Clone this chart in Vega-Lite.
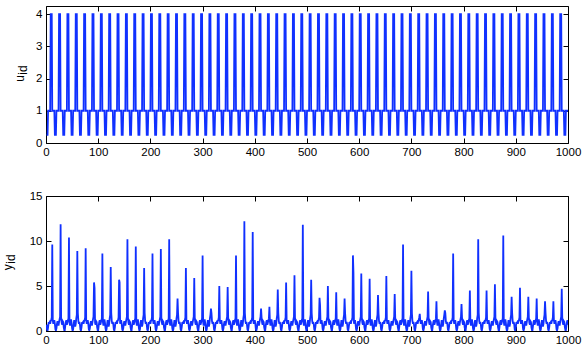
{"$schema":"https://vega.github.io/schema/vega-lite/v6.json","padding":{"left":0,"top":5,"right":5,"bottom":2},"background":"white",
"config":{"view":{"stroke":"black","strokeWidth":1},"axis":{"grid":false,"domain":false,"tickColor":"black","tickSize":-5,"tickWidth":1,"labelColor":"black","labelFont":"Liberation Sans","labelFontSize":11.5,"titleFont":"Liberation Sans","titleFontSize":12,"titleFontWeight":"normal","titleColor":"black","labelFlush":false,"labelOverlap":false,"labelBound":false},"line":{"color":"#1030ff","strokeWidth":1.8}},
"data":{"values":[
{"t":1,"u":0.25,"y":0.7},{"t":2,"u":0.25,"y":0.15},{"t":3,"u":0.25,"y":0.05},{"t":4,"u":1,"y":0.4},{"t":5,"u":1,"y":0.9},{"t":6,"u":1,"y":0.9},{"t":7,"u":1,"y":1},{"t":8,"u":1,"y":0.8},{"t":9,"u":4,"y":1.1},{"t":10,"u":4,"y":1.2},{"t":11,"u":4,"y":1.5},
{"t":12,"u":1,"y":9.6},{"t":13,"u":1,"y":1.2},{"t":14,"u":1,"y":0.8},{"t":15,"u":1,"y":1},{"t":16,"u":1,"y":1.2},{"t":17,"u":0.25,"y":0.8},{"t":18,"u":0.25,"y":0.2},{"t":19,"u":0.25,"y":0.05},{"t":20,"u":1,"y":0.3},{"t":21,"u":1,"y":0.8},{"t":22,"u":1,"y":1.1},{"t":23,"u":1,"y":0.8},{"t":24,"u":1,"y":0.6},{"t":25,"u":4,"y":1},{"t":26,"u":4,"y":1.3},{"t":27,"u":4,"y":1.6},
{"t":28,"u":1,"y":11.85},{"t":29,"u":1,"y":1.5},{"t":30,"u":1,"y":0.9},{"t":31,"u":1,"y":0.7},{"t":32,"u":1,"y":1.1},{"t":33,"u":0.25,"y":1},{"t":34,"u":0.25,"y":0.4},{"t":35,"u":0.25,"y":0.1},{"t":36,"u":1,"y":0.1},{"t":37,"u":1,"y":0.6},{"t":38,"u":1,"y":1},{"t":39,"u":1,"y":1.2},{"t":40,"u":1,"y":0.7},{"t":41,"u":4,"y":0.9},{"t":42,"u":4,"y":1.2},{"t":43,"u":4,"y":1.4},
{"t":44,"u":1,"y":10.4},{"t":45,"u":1,"y":1},{"t":46,"u":1,"y":0.6},{"t":47,"u":1,"y":0.9},{"t":48,"u":1,"y":1.3},{"t":49,"u":0.25,"y":0.9},{"t":50,"u":0.25,"y":0.3},{"t":51,"u":0.25,"y":0},{"t":52,"u":1,"y":0.2},{"t":53,"u":1,"y":0.7},{"t":54,"u":1,"y":1.2},{"t":55,"u":1,"y":0.9},{"t":56,"u":1,"y":0.5},{"t":57,"u":4,"y":0.8},{"t":58,"u":4,"y":1.4},{"t":59,"u":4,"y":1.8},
{"t":60,"u":1,"y":8.9},{"t":61,"u":1,"y":2},{"t":62,"u":1,"y":1.1},{"t":63,"u":1,"y":0.8},{"t":64,"u":1,"y":1},{"t":65,"u":0.25,"y":0.7},{"t":66,"u":0.25,"y":0.15},{"t":67,"u":0.25,"y":0.05},{"t":68,"u":1,"y":0.4},{"t":69,"u":1,"y":0.9},{"t":70,"u":1,"y":0.9},{"t":71,"u":1,"y":1},{"t":72,"u":1,"y":0.8},{"t":73,"u":4,"y":1.1},{"t":74,"u":4,"y":1.2},{"t":75,"u":4,"y":1.5},
{"t":76,"u":1,"y":9.2},{"t":77,"u":1,"y":1.2},{"t":78,"u":1,"y":0.8},{"t":79,"u":1,"y":1},{"t":80,"u":1,"y":1.2},{"t":81,"u":0.25,"y":0.8},{"t":82,"u":0.25,"y":0.2},{"t":83,"u":0.25,"y":0.05},{"t":84,"u":1,"y":0.3},{"t":85,"u":1,"y":0.8},{"t":86,"u":1,"y":1.1},{"t":87,"u":1,"y":0.8},{"t":88,"u":1,"y":0.6},{"t":89,"u":4,"y":1},{"t":90,"u":4,"y":1.3},{"t":91,"u":4,"y":1.6},
{"t":92,"u":1,"y":5.4},{"t":93,"u":1,"y":4.8},{"t":94,"u":1,"y":0.9},{"t":95,"u":1,"y":0.7},{"t":96,"u":1,"y":1.1},{"t":97,"u":0.25,"y":1},{"t":98,"u":0.25,"y":0.4},{"t":99,"u":0.25,"y":0.1},{"t":100,"u":1,"y":0.1},{"t":101,"u":1,"y":0.6},{"t":102,"u":1,"y":1},{"t":103,"u":1,"y":1.2},{"t":104,"u":1,"y":0.7},{"t":105,"u":4,"y":0.9},{"t":106,"u":4,"y":1.2},{"t":107,"u":4,"y":1.4},
{"t":108,"u":1,"y":8.6},{"t":109,"u":1,"y":1},{"t":110,"u":1,"y":0.6},{"t":111,"u":1,"y":0.9},{"t":112,"u":1,"y":1.3},{"t":113,"u":0.25,"y":0.9},{"t":114,"u":0.25,"y":0.3},{"t":115,"u":0.25,"y":0},{"t":116,"u":1,"y":0.2},{"t":117,"u":1,"y":0.7},{"t":118,"u":1,"y":1.2},{"t":119,"u":1,"y":0.9},{"t":120,"u":1,"y":0.5},{"t":121,"u":4,"y":0.8},{"t":122,"u":4,"y":1.4},{"t":123,"u":4,"y":1.8},
{"t":124,"u":1,"y":7.1},{"t":125,"u":1,"y":2},{"t":126,"u":1,"y":1.1},{"t":127,"u":1,"y":0.8},{"t":128,"u":1,"y":1},{"t":129,"u":0.25,"y":0.7},{"t":130,"u":0.25,"y":0.15},{"t":131,"u":0.25,"y":0.05},{"t":132,"u":1,"y":0.4},{"t":133,"u":1,"y":0.9},{"t":134,"u":1,"y":0.9},{"t":135,"u":1,"y":1},{"t":136,"u":1,"y":0.8},{"t":137,"u":4,"y":1.1},{"t":138,"u":4,"y":1.2},{"t":139,"u":4,"y":1.5},
{"t":140,"u":1,"y":5.7},{"t":141,"u":1,"y":5.4},{"t":142,"u":1,"y":0.8},{"t":143,"u":1,"y":1},{"t":144,"u":1,"y":1.2},{"t":145,"u":0.25,"y":0.8},{"t":146,"u":0.25,"y":0.2},{"t":147,"u":0.25,"y":0.05},{"t":148,"u":1,"y":0.3},{"t":149,"u":1,"y":0.8},{"t":150,"u":1,"y":1.1},{"t":151,"u":1,"y":0.8},{"t":152,"u":1,"y":0.6},{"t":153,"u":4,"y":1},{"t":154,"u":4,"y":1.3},{"t":155,"u":4,"y":1.6},
{"t":156,"u":1,"y":10.2},{"t":157,"u":1,"y":1.5},{"t":158,"u":1,"y":0.9},{"t":159,"u":1,"y":0.7},{"t":160,"u":1,"y":1.1},{"t":161,"u":0.25,"y":1},{"t":162,"u":0.25,"y":0.4},{"t":163,"u":0.25,"y":0.1},{"t":164,"u":1,"y":0.1},{"t":165,"u":1,"y":0.6},{"t":166,"u":1,"y":1},{"t":167,"u":1,"y":1.2},{"t":168,"u":1,"y":0.7},{"t":169,"u":4,"y":0.9},{"t":170,"u":4,"y":1.2},{"t":171,"u":4,"y":1.4},
{"t":172,"u":1,"y":9.4},{"t":173,"u":1,"y":1},{"t":174,"u":1,"y":0.6},{"t":175,"u":1,"y":0.9},{"t":176,"u":1,"y":1.3},{"t":177,"u":0.25,"y":0.9},{"t":178,"u":0.25,"y":0.3},{"t":179,"u":0.25,"y":0},{"t":180,"u":1,"y":0.2},{"t":181,"u":1,"y":0.7},{"t":182,"u":1,"y":1.2},{"t":183,"u":1,"y":0.9},{"t":184,"u":1,"y":0.5},{"t":185,"u":4,"y":0.8},{"t":186,"u":4,"y":1.4},{"t":187,"u":4,"y":1.8},
{"t":188,"u":1,"y":7},{"t":189,"u":1,"y":2},{"t":190,"u":1,"y":1.1},{"t":191,"u":1,"y":0.8},{"t":192,"u":1,"y":1},{"t":193,"u":0.25,"y":0.7},{"t":194,"u":0.25,"y":0.15},{"t":195,"u":0.25,"y":0.05},{"t":196,"u":1,"y":0.4},{"t":197,"u":1,"y":0.9},{"t":198,"u":1,"y":0.9},{"t":199,"u":1,"y":1},{"t":200,"u":1,"y":0.8},{"t":201,"u":4,"y":1.1},{"t":202,"u":4,"y":1.2},{"t":203,"u":4,"y":1.5},
{"t":204,"u":1,"y":8.6},{"t":205,"u":1,"y":1.2},{"t":206,"u":1,"y":0.8},{"t":207,"u":1,"y":1},{"t":208,"u":1,"y":1.2},{"t":209,"u":0.25,"y":0.8},{"t":210,"u":0.25,"y":0.2},{"t":211,"u":0.25,"y":0.05},{"t":212,"u":1,"y":0.3},{"t":213,"u":1,"y":0.8},{"t":214,"u":1,"y":1.1},{"t":215,"u":1,"y":0.8},{"t":216,"u":1,"y":0.6},{"t":217,"u":4,"y":1},{"t":218,"u":4,"y":1.3},{"t":219,"u":4,"y":1.6},
{"t":220,"u":1,"y":9.1},{"t":221,"u":1,"y":1.5},{"t":222,"u":1,"y":0.9},{"t":223,"u":1,"y":0.7},{"t":224,"u":1,"y":1.1},{"t":225,"u":0.25,"y":1},{"t":226,"u":0.25,"y":0.4},{"t":227,"u":0.25,"y":0.1},{"t":228,"u":1,"y":0.1},{"t":229,"u":1,"y":0.6},{"t":230,"u":1,"y":1},{"t":231,"u":1,"y":1.2},{"t":232,"u":1,"y":0.7},{"t":233,"u":4,"y":0.9},{"t":234,"u":4,"y":1.2},{"t":235,"u":4,"y":1.4},
{"t":236,"u":1,"y":10.2},{"t":237,"u":1,"y":1},{"t":238,"u":1,"y":0.6},{"t":239,"u":1,"y":0.9},{"t":240,"u":1,"y":1.3},{"t":241,"u":0.25,"y":0.9},{"t":242,"u":0.25,"y":0.3},{"t":243,"u":0.25,"y":0},{"t":244,"u":1,"y":0.2},{"t":245,"u":1,"y":0.7},{"t":246,"u":1,"y":1.2},{"t":247,"u":1,"y":0.9},{"t":248,"u":1,"y":0.5},{"t":249,"u":4,"y":0.8},{"t":250,"u":4,"y":1.4},{"t":251,"u":4,"y":1.8},
{"t":252,"u":1,"y":3.6},{"t":253,"u":1,"y":2},{"t":254,"u":1,"y":1.1},{"t":255,"u":1,"y":0.8},{"t":256,"u":1,"y":1},{"t":257,"u":0.25,"y":0.7},{"t":258,"u":0.25,"y":0.15},{"t":259,"u":0.25,"y":0.05},{"t":260,"u":1,"y":0.4},{"t":261,"u":1,"y":0.9},{"t":262,"u":1,"y":0.9},{"t":263,"u":1,"y":1},{"t":264,"u":1,"y":0.8},{"t":265,"u":4,"y":1.1},{"t":266,"u":4,"y":1.2},{"t":267,"u":4,"y":1.5},
{"t":268,"u":1,"y":7},{"t":269,"u":1,"y":1.2},{"t":270,"u":1,"y":0.8},{"t":271,"u":1,"y":1},{"t":272,"u":1,"y":1.2},{"t":273,"u":0.25,"y":0.8},{"t":274,"u":0.25,"y":0.2},{"t":275,"u":0.25,"y":0.05},{"t":276,"u":1,"y":0.3},{"t":277,"u":1,"y":0.8},{"t":278,"u":1,"y":1.1},{"t":279,"u":1,"y":0.8},{"t":280,"u":1,"y":0.6},{"t":281,"u":4,"y":1},{"t":282,"u":4,"y":1.3},{"t":283,"u":4,"y":1.6},
{"t":284,"u":1,"y":5.9},{"t":285,"u":1,"y":1.5},{"t":286,"u":1,"y":0.9},{"t":287,"u":1,"y":0.7},{"t":288,"u":1,"y":1.1},{"t":289,"u":0.25,"y":1},{"t":290,"u":0.25,"y":0.4},{"t":291,"u":0.25,"y":0.1},{"t":292,"u":1,"y":0.1},{"t":293,"u":1,"y":0.6},{"t":294,"u":1,"y":1},{"t":295,"u":1,"y":1.2},{"t":296,"u":1,"y":0.7},{"t":297,"u":4,"y":0.9},{"t":298,"u":4,"y":1.2},{"t":299,"u":4,"y":1.4},
{"t":300,"u":1,"y":8.4},{"t":301,"u":1,"y":1},{"t":302,"u":1,"y":0.6},{"t":303,"u":1,"y":0.9},{"t":304,"u":1,"y":1.3},{"t":305,"u":0.25,"y":0.9},{"t":306,"u":0.25,"y":0.3},{"t":307,"u":0.25,"y":0},{"t":308,"u":1,"y":0.2},{"t":309,"u":1,"y":0.7},{"t":310,"u":1,"y":1.2},{"t":311,"u":1,"y":0.9},{"t":312,"u":1,"y":0.5},{"t":313,"u":4,"y":0.8},{"t":314,"u":4,"y":1.4},{"t":315,"u":4,"y":1.8},
{"t":316,"u":1,"y":2.5},{"t":317,"u":1,"y":2},{"t":318,"u":1,"y":1.1},{"t":319,"u":1,"y":0.8},{"t":320,"u":1,"y":1},{"t":321,"u":0.25,"y":0.7},{"t":322,"u":0.25,"y":0.15},{"t":323,"u":0.25,"y":0.05},{"t":324,"u":1,"y":0.4},{"t":325,"u":1,"y":0.9},{"t":326,"u":1,"y":0.9},{"t":327,"u":1,"y":1},{"t":328,"u":1,"y":0.8},{"t":329,"u":4,"y":1.1},{"t":330,"u":4,"y":1.2},{"t":331,"u":4,"y":1.5},
{"t":332,"u":1,"y":5},{"t":333,"u":1,"y":1.2},{"t":334,"u":1,"y":0.8},{"t":335,"u":1,"y":1},{"t":336,"u":1,"y":1.2},{"t":337,"u":0.25,"y":0.8},{"t":338,"u":0.25,"y":0.2},{"t":339,"u":0.25,"y":0.05},{"t":340,"u":1,"y":0.3},{"t":341,"u":1,"y":0.8},{"t":342,"u":1,"y":1.1},{"t":343,"u":1,"y":0.8},{"t":344,"u":1,"y":0.6},{"t":345,"u":4,"y":1},{"t":346,"u":4,"y":1.3},{"t":347,"u":4,"y":1.6},
{"t":348,"u":1,"y":4.9},{"t":349,"u":1,"y":1.5},{"t":350,"u":1,"y":0.9},{"t":351,"u":1,"y":0.7},{"t":352,"u":1,"y":1.1},{"t":353,"u":0.25,"y":1},{"t":354,"u":0.25,"y":0.4},{"t":355,"u":0.25,"y":0.1},{"t":356,"u":1,"y":0.1},{"t":357,"u":1,"y":0.6},{"t":358,"u":1,"y":1},{"t":359,"u":1,"y":1.2},{"t":360,"u":1,"y":0.7},{"t":361,"u":4,"y":0.9},{"t":362,"u":4,"y":1.2},{"t":363,"u":4,"y":1.4},
{"t":364,"u":1,"y":8.4},{"t":365,"u":1,"y":1},{"t":366,"u":1,"y":0.6},{"t":367,"u":1,"y":0.9},{"t":368,"u":1,"y":1.3},{"t":369,"u":0.25,"y":0.9},{"t":370,"u":0.25,"y":0.3},{"t":371,"u":0.25,"y":0},{"t":372,"u":1,"y":0.2},{"t":373,"u":1,"y":0.7},{"t":374,"u":1,"y":1.2},{"t":375,"u":1,"y":0.9},{"t":376,"u":1,"y":0.5},{"t":377,"u":4,"y":0.8},{"t":378,"u":4,"y":1.4},{"t":379,"u":4,"y":1.8},
{"t":380,"u":1,"y":12.2},{"t":381,"u":1,"y":2},{"t":382,"u":1,"y":1.1},{"t":383,"u":1,"y":0.8},{"t":384,"u":1,"y":1},{"t":385,"u":0.25,"y":0.7},{"t":386,"u":0.25,"y":0.15},{"t":387,"u":0.25,"y":0.05},{"t":388,"u":1,"y":0.4},{"t":389,"u":1,"y":0.9},{"t":390,"u":1,"y":0.9},{"t":391,"u":1,"y":1},{"t":392,"u":1,"y":0.8},{"t":393,"u":4,"y":1.1},{"t":394,"u":4,"y":1.2},{"t":395,"u":4,"y":1.5},
{"t":396,"u":1,"y":11},{"t":397,"u":1,"y":1.2},{"t":398,"u":1,"y":0.8},{"t":399,"u":1,"y":1},{"t":400,"u":1,"y":1.2},{"t":401,"u":0.25,"y":0.8},{"t":402,"u":0.25,"y":0.2},{"t":403,"u":0.25,"y":0.05},{"t":404,"u":1,"y":0.3},{"t":405,"u":1,"y":0.8},{"t":406,"u":1,"y":1.1},{"t":407,"u":1,"y":0.8},{"t":408,"u":1,"y":0.6},{"t":409,"u":4,"y":1},{"t":410,"u":4,"y":1.3},{"t":411,"u":4,"y":1.6},
{"t":412,"u":1,"y":2.5},{"t":413,"u":1,"y":1.5},{"t":414,"u":1,"y":0.9},{"t":415,"u":1,"y":0.7},{"t":416,"u":1,"y":1.1},{"t":417,"u":0.25,"y":1},{"t":418,"u":0.25,"y":0.4},{"t":419,"u":0.25,"y":0.1},{"t":420,"u":1,"y":0.1},{"t":421,"u":1,"y":0.6},{"t":422,"u":1,"y":1},{"t":423,"u":1,"y":1.2},{"t":424,"u":1,"y":0.7},{"t":425,"u":4,"y":0.9},{"t":426,"u":4,"y":1.2},{"t":427,"u":4,"y":1.4},
{"t":428,"u":1,"y":2.7},{"t":429,"u":1,"y":1},{"t":430,"u":1,"y":0.6},{"t":431,"u":1,"y":0.9},{"t":432,"u":1,"y":1.3},{"t":433,"u":0.25,"y":0.9},{"t":434,"u":0.25,"y":0.3},{"t":435,"u":0.25,"y":0},{"t":436,"u":1,"y":0.2},{"t":437,"u":1,"y":0.7},{"t":438,"u":1,"y":1.2},{"t":439,"u":1,"y":0.9},{"t":440,"u":1,"y":0.5},{"t":441,"u":4,"y":0.8},{"t":442,"u":4,"y":1.4},{"t":443,"u":4,"y":1.8},
{"t":444,"u":1,"y":4.6},{"t":445,"u":1,"y":2},{"t":446,"u":1,"y":1.1},{"t":447,"u":1,"y":0.8},{"t":448,"u":1,"y":1},{"t":449,"u":0.25,"y":0.7},{"t":450,"u":0.25,"y":0.15},{"t":451,"u":0.25,"y":0.05},{"t":452,"u":1,"y":0.4},{"t":453,"u":1,"y":0.9},{"t":454,"u":1,"y":0.9},{"t":455,"u":1,"y":1},{"t":456,"u":1,"y":0.8},{"t":457,"u":4,"y":1.1},{"t":458,"u":4,"y":1.2},{"t":459,"u":4,"y":1.5},
{"t":460,"u":1,"y":5.4},{"t":461,"u":1,"y":1.2},{"t":462,"u":1,"y":0.8},{"t":463,"u":1,"y":1},{"t":464,"u":1,"y":1.2},{"t":465,"u":0.25,"y":0.8},{"t":466,"u":0.25,"y":0.2},{"t":467,"u":0.25,"y":0.05},{"t":468,"u":1,"y":0.3},{"t":469,"u":1,"y":0.8},{"t":470,"u":1,"y":1.1},{"t":471,"u":1,"y":0.8},{"t":472,"u":1,"y":0.6},{"t":473,"u":4,"y":1},{"t":474,"u":4,"y":1.3},{"t":475,"u":4,"y":1.6},
{"t":476,"u":1,"y":6.2},{"t":477,"u":1,"y":1.5},{"t":478,"u":1,"y":0.9},{"t":479,"u":1,"y":0.7},{"t":480,"u":1,"y":1.1},{"t":481,"u":0.25,"y":1},{"t":482,"u":0.25,"y":0.4},{"t":483,"u":0.25,"y":0.1},{"t":484,"u":1,"y":0.1},{"t":485,"u":1,"y":0.6},{"t":486,"u":1,"y":1},{"t":487,"u":1,"y":1.2},{"t":488,"u":1,"y":0.7},{"t":489,"u":4,"y":0.9},{"t":490,"u":4,"y":1.2},{"t":491,"u":4,"y":1.4},
{"t":492,"u":1,"y":11.8},{"t":493,"u":1,"y":1},{"t":494,"u":1,"y":0.6},{"t":495,"u":1,"y":0.9},{"t":496,"u":1,"y":1.3},{"t":497,"u":0.25,"y":0.9},{"t":498,"u":0.25,"y":0.3},{"t":499,"u":0.25,"y":0},{"t":500,"u":1,"y":0.2},{"t":501,"u":1,"y":0.7},{"t":502,"u":1,"y":1.2},{"t":503,"u":1,"y":0.9},{"t":504,"u":1,"y":0.5},{"t":505,"u":4,"y":0.8},{"t":506,"u":4,"y":1.4},{"t":507,"u":4,"y":1.8},
{"t":508,"u":1,"y":5.7},{"t":509,"u":1,"y":2},{"t":510,"u":1,"y":1.1},{"t":511,"u":1,"y":0.8},{"t":512,"u":1,"y":1},{"t":513,"u":0.25,"y":0.7},{"t":514,"u":0.25,"y":0.15},{"t":515,"u":0.25,"y":0.05},{"t":516,"u":1,"y":0.4},{"t":517,"u":1,"y":0.9},{"t":518,"u":1,"y":0.9},{"t":519,"u":1,"y":1},{"t":520,"u":1,"y":0.8},{"t":521,"u":4,"y":1.1},{"t":522,"u":4,"y":1.2},{"t":523,"u":4,"y":1.5},
{"t":524,"u":1,"y":3.7},{"t":525,"u":1,"y":2.9},{"t":526,"u":1,"y":0.8},{"t":527,"u":1,"y":1},{"t":528,"u":1,"y":1.2},{"t":529,"u":0.25,"y":0.8},{"t":530,"u":0.25,"y":0.2},{"t":531,"u":0.25,"y":0.05},{"t":532,"u":1,"y":0.3},{"t":533,"u":1,"y":0.8},{"t":534,"u":1,"y":1.1},{"t":535,"u":1,"y":0.8},{"t":536,"u":1,"y":0.6},{"t":537,"u":4,"y":1},{"t":538,"u":4,"y":1.3},{"t":539,"u":4,"y":1.6},
{"t":540,"u":1,"y":5},{"t":541,"u":1,"y":1.5},{"t":542,"u":1,"y":0.9},{"t":543,"u":1,"y":0.7},{"t":544,"u":1,"y":1.1},{"t":545,"u":0.25,"y":1},{"t":546,"u":0.25,"y":0.4},{"t":547,"u":0.25,"y":0.1},{"t":548,"u":1,"y":0.1},{"t":549,"u":1,"y":0.6},{"t":550,"u":1,"y":1},{"t":551,"u":1,"y":1.2},{"t":552,"u":1,"y":0.7},{"t":553,"u":4,"y":0.9},{"t":554,"u":4,"y":1.2},{"t":555,"u":4,"y":1.4},
{"t":556,"u":1,"y":4.3},{"t":557,"u":1,"y":1},{"t":558,"u":1,"y":0.6},{"t":559,"u":1,"y":0.9},{"t":560,"u":1,"y":1.3},{"t":561,"u":0.25,"y":0.9},{"t":562,"u":0.25,"y":0.3},{"t":563,"u":0.25,"y":0},{"t":564,"u":1,"y":0.2},{"t":565,"u":1,"y":0.7},{"t":566,"u":1,"y":1.2},{"t":567,"u":1,"y":0.9},{"t":568,"u":1,"y":0.5},{"t":569,"u":4,"y":0.8},{"t":570,"u":4,"y":1.4},{"t":571,"u":4,"y":1.8},
{"t":572,"u":1,"y":3.6},{"t":573,"u":1,"y":2},{"t":574,"u":1,"y":1.1},{"t":575,"u":1,"y":0.8},{"t":576,"u":1,"y":1},{"t":577,"u":0.25,"y":0.7},{"t":578,"u":0.25,"y":0.15},{"t":579,"u":0.25,"y":0.05},{"t":580,"u":1,"y":0.4},{"t":581,"u":1,"y":0.9},{"t":582,"u":1,"y":0.9},{"t":583,"u":1,"y":1},{"t":584,"u":1,"y":0.8},{"t":585,"u":4,"y":1.1},{"t":586,"u":4,"y":1.2},{"t":587,"u":4,"y":1.5},
{"t":588,"u":1,"y":8.4},{"t":589,"u":1,"y":6.5},{"t":590,"u":1,"y":0.8},{"t":591,"u":1,"y":1},{"t":592,"u":1,"y":1.2},{"t":593,"u":0.25,"y":0.8},{"t":594,"u":0.25,"y":0.2},{"t":595,"u":0.25,"y":0.05},{"t":596,"u":1,"y":0.3},{"t":597,"u":1,"y":0.8},{"t":598,"u":1,"y":1.1},{"t":599,"u":1,"y":0.8},{"t":600,"u":1,"y":0.6},{"t":601,"u":4,"y":1},{"t":602,"u":4,"y":1.3},{"t":603,"u":4,"y":1.6},
{"t":604,"u":1,"y":6.4},{"t":605,"u":1,"y":1.5},{"t":606,"u":1,"y":0.9},{"t":607,"u":1,"y":0.7},{"t":608,"u":1,"y":1.1},{"t":609,"u":0.25,"y":1},{"t":610,"u":0.25,"y":0.4},{"t":611,"u":0.25,"y":0.1},{"t":612,"u":1,"y":0.1},{"t":613,"u":1,"y":0.6},{"t":614,"u":1,"y":1},{"t":615,"u":1,"y":1.2},{"t":616,"u":1,"y":0.7},{"t":617,"u":4,"y":0.9},{"t":618,"u":4,"y":1.2},{"t":619,"u":4,"y":1.4},
{"t":620,"u":1,"y":5.8},{"t":621,"u":1,"y":1},{"t":622,"u":1,"y":0.6},{"t":623,"u":1,"y":0.9},{"t":624,"u":1,"y":1.3},{"t":625,"u":0.25,"y":0.9},{"t":626,"u":0.25,"y":0.3},{"t":627,"u":0.25,"y":0},{"t":628,"u":1,"y":0.2},{"t":629,"u":1,"y":0.7},{"t":630,"u":1,"y":1.2},{"t":631,"u":1,"y":0.9},{"t":632,"u":1,"y":0.5},{"t":633,"u":4,"y":0.8},{"t":634,"u":4,"y":1.4},{"t":635,"u":4,"y":1.8},
{"t":636,"u":1,"y":4},{"t":637,"u":1,"y":2},{"t":638,"u":1,"y":1.1},{"t":639,"u":1,"y":0.8},{"t":640,"u":1,"y":1},{"t":641,"u":0.25,"y":0.7},{"t":642,"u":0.25,"y":0.15},{"t":643,"u":0.25,"y":0.05},{"t":644,"u":1,"y":0.4},{"t":645,"u":1,"y":0.9},{"t":646,"u":1,"y":0.9},{"t":647,"u":1,"y":1},{"t":648,"u":1,"y":0.8},{"t":649,"u":4,"y":1.1},{"t":650,"u":4,"y":1.2},{"t":651,"u":4,"y":1.5},
{"t":652,"u":1,"y":6.1},{"t":653,"u":1,"y":1.2},{"t":654,"u":1,"y":0.8},{"t":655,"u":1,"y":1},{"t":656,"u":1,"y":1.2},{"t":657,"u":0.25,"y":0.8},{"t":658,"u":0.25,"y":0.2},{"t":659,"u":0.25,"y":0.05},{"t":660,"u":1,"y":0.3},{"t":661,"u":1,"y":0.8},{"t":662,"u":1,"y":1.1},{"t":663,"u":1,"y":0.8},{"t":664,"u":1,"y":0.6},{"t":665,"u":4,"y":1},{"t":666,"u":4,"y":1.3},{"t":667,"u":4,"y":1.6},
{"t":668,"u":1,"y":4.1},{"t":669,"u":1,"y":1.5},{"t":670,"u":1,"y":0.9},{"t":671,"u":1,"y":0.7},{"t":672,"u":1,"y":1.1},{"t":673,"u":0.25,"y":1},{"t":674,"u":0.25,"y":0.4},{"t":675,"u":0.25,"y":0.1},{"t":676,"u":1,"y":0.1},{"t":677,"u":1,"y":0.6},{"t":678,"u":1,"y":1},{"t":679,"u":1,"y":1.2},{"t":680,"u":1,"y":0.7},{"t":681,"u":4,"y":0.9},{"t":682,"u":4,"y":1.2},{"t":683,"u":4,"y":1.4},
{"t":684,"u":1,"y":9.6},{"t":685,"u":1,"y":1},{"t":686,"u":1,"y":0.6},{"t":687,"u":1,"y":0.9},{"t":688,"u":1,"y":1.3},{"t":689,"u":0.25,"y":0.9},{"t":690,"u":0.25,"y":0.3},{"t":691,"u":0.25,"y":0},{"t":692,"u":1,"y":0.2},{"t":693,"u":1,"y":0.7},{"t":694,"u":1,"y":1.2},{"t":695,"u":1,"y":0.9},{"t":696,"u":1,"y":0.5},{"t":697,"u":4,"y":0.8},{"t":698,"u":4,"y":1.4},{"t":699,"u":4,"y":1.8},
{"t":700,"u":1,"y":6.7},{"t":701,"u":1,"y":2},{"t":702,"u":1,"y":1.1},{"t":703,"u":1,"y":0.8},{"t":704,"u":1,"y":1},{"t":705,"u":0.25,"y":0.7},{"t":706,"u":0.25,"y":0.15},{"t":707,"u":0.25,"y":0.05},{"t":708,"u":1,"y":0.4},{"t":709,"u":1,"y":0.9},{"t":710,"u":1,"y":0.9},{"t":711,"u":1,"y":1},{"t":712,"u":1,"y":0.8},{"t":713,"u":4,"y":1.1},{"t":714,"u":4,"y":1.2},{"t":715,"u":4,"y":1.5},
{"t":716,"u":1,"y":1.9},{"t":717,"u":1,"y":1.2},{"t":718,"u":1,"y":0.8},{"t":719,"u":1,"y":1},{"t":720,"u":1,"y":1.2},{"t":721,"u":0.25,"y":0.8},{"t":722,"u":0.25,"y":0.2},{"t":723,"u":0.25,"y":0.05},{"t":724,"u":1,"y":0.3},{"t":725,"u":1,"y":0.8},{"t":726,"u":1,"y":1.1},{"t":727,"u":1,"y":0.8},{"t":728,"u":1,"y":0.6},{"t":729,"u":4,"y":1},{"t":730,"u":4,"y":1.3},{"t":731,"u":4,"y":1.6},
{"t":732,"u":1,"y":4.4},{"t":733,"u":1,"y":1.5},{"t":734,"u":1,"y":0.9},{"t":735,"u":1,"y":0.7},{"t":736,"u":1,"y":1.1},{"t":737,"u":0.25,"y":1},{"t":738,"u":0.25,"y":0.4},{"t":739,"u":0.25,"y":0.1},{"t":740,"u":1,"y":0.1},{"t":741,"u":1,"y":0.6},{"t":742,"u":1,"y":1},{"t":743,"u":1,"y":1.2},{"t":744,"u":1,"y":0.7},{"t":745,"u":4,"y":0.9},{"t":746,"u":4,"y":1.2},{"t":747,"u":4,"y":1.4},
{"t":748,"u":1,"y":3.3},{"t":749,"u":1,"y":1},{"t":750,"u":1,"y":0.6},{"t":751,"u":1,"y":0.9},{"t":752,"u":1,"y":1.3},{"t":753,"u":0.25,"y":0.9},{"t":754,"u":0.25,"y":0.3},{"t":755,"u":0.25,"y":0},{"t":756,"u":1,"y":0.2},{"t":757,"u":1,"y":0.7},{"t":758,"u":1,"y":1.2},{"t":759,"u":1,"y":0.9},{"t":760,"u":1,"y":0.5},{"t":761,"u":4,"y":0.8},{"t":762,"u":4,"y":1.4},{"t":763,"u":4,"y":1.8},
{"t":764,"u":1,"y":2.3},{"t":765,"u":1,"y":2},{"t":766,"u":1,"y":1.1},{"t":767,"u":1,"y":0.8},{"t":768,"u":1,"y":1},{"t":769,"u":0.25,"y":0.7},{"t":770,"u":0.25,"y":0.15},{"t":771,"u":0.25,"y":0.05},{"t":772,"u":1,"y":0.4},{"t":773,"u":1,"y":0.9},{"t":774,"u":1,"y":0.9},{"t":775,"u":1,"y":1},{"t":776,"u":1,"y":0.8},{"t":777,"u":4,"y":1.1},{"t":778,"u":4,"y":1.2},{"t":779,"u":4,"y":1.5},
{"t":780,"u":1,"y":8.6},{"t":781,"u":1,"y":1.2},{"t":782,"u":1,"y":0.8},{"t":783,"u":1,"y":1},{"t":784,"u":1,"y":1.2},{"t":785,"u":0.25,"y":0.8},{"t":786,"u":0.25,"y":0.2},{"t":787,"u":0.25,"y":0.05},{"t":788,"u":1,"y":0.3},{"t":789,"u":1,"y":0.8},{"t":790,"u":1,"y":1.1},{"t":791,"u":1,"y":0.8},{"t":792,"u":1,"y":0.6},{"t":793,"u":4,"y":1},{"t":794,"u":4,"y":1.3},{"t":795,"u":4,"y":1.6},
{"t":796,"u":1,"y":3},{"t":797,"u":1,"y":1.5},{"t":798,"u":1,"y":0.9},{"t":799,"u":1,"y":0.7},{"t":800,"u":1,"y":1.1},{"t":801,"u":0.25,"y":1},{"t":802,"u":0.25,"y":0.4},{"t":803,"u":0.25,"y":0.1},{"t":804,"u":1,"y":0.1},{"t":805,"u":1,"y":0.6},{"t":806,"u":1,"y":1},{"t":807,"u":1,"y":1.2},{"t":808,"u":1,"y":0.7},{"t":809,"u":4,"y":0.9},{"t":810,"u":4,"y":1.2},{"t":811,"u":4,"y":1.4},
{"t":812,"u":1,"y":4.5},{"t":813,"u":1,"y":1},{"t":814,"u":1,"y":0.6},{"t":815,"u":1,"y":0.9},{"t":816,"u":1,"y":1.3},{"t":817,"u":0.25,"y":0.9},{"t":818,"u":0.25,"y":0.3},{"t":819,"u":0.25,"y":0},{"t":820,"u":1,"y":0.2},{"t":821,"u":1,"y":0.7},{"t":822,"u":1,"y":1.2},{"t":823,"u":1,"y":0.9},{"t":824,"u":1,"y":0.5},{"t":825,"u":4,"y":0.8},{"t":826,"u":4,"y":1.4},{"t":827,"u":4,"y":1.8},
{"t":828,"u":1,"y":10.2},{"t":829,"u":1,"y":2},{"t":830,"u":1,"y":1.1},{"t":831,"u":1,"y":0.8},{"t":832,"u":1,"y":1},{"t":833,"u":0.25,"y":0.7},{"t":834,"u":0.25,"y":0.15},{"t":835,"u":0.25,"y":0.05},{"t":836,"u":1,"y":0.4},{"t":837,"u":1,"y":0.9},{"t":838,"u":1,"y":0.9},{"t":839,"u":1,"y":1},{"t":840,"u":1,"y":0.8},{"t":841,"u":4,"y":1.1},{"t":842,"u":4,"y":1.2},{"t":843,"u":4,"y":1.5},
{"t":844,"u":1,"y":4.5},{"t":845,"u":1,"y":1.2},{"t":846,"u":1,"y":0.8},{"t":847,"u":1,"y":1},{"t":848,"u":1,"y":1.2},{"t":849,"u":0.25,"y":0.8},{"t":850,"u":0.25,"y":0.2},{"t":851,"u":0.25,"y":0.05},{"t":852,"u":1,"y":0.3},{"t":853,"u":1,"y":0.8},{"t":854,"u":1,"y":1.1},{"t":855,"u":1,"y":0.8},{"t":856,"u":1,"y":0.6},{"t":857,"u":4,"y":1},{"t":858,"u":4,"y":1.3},{"t":859,"u":4,"y":1.6},
{"t":860,"u":1,"y":5.2},{"t":861,"u":1,"y":1.5},{"t":862,"u":1,"y":0.9},{"t":863,"u":1,"y":0.7},{"t":864,"u":1,"y":1.1},{"t":865,"u":0.25,"y":1},{"t":866,"u":0.25,"y":0.4},{"t":867,"u":0.25,"y":0.1},{"t":868,"u":1,"y":0.1},{"t":869,"u":1,"y":0.6},{"t":870,"u":1,"y":1},{"t":871,"u":1,"y":1.2},{"t":872,"u":1,"y":0.7},{"t":873,"u":4,"y":0.9},{"t":874,"u":4,"y":1.2},{"t":875,"u":4,"y":1.4},
{"t":876,"u":1,"y":10.6},{"t":877,"u":1,"y":1},{"t":878,"u":1,"y":0.6},{"t":879,"u":1,"y":0.9},{"t":880,"u":1,"y":1.3},{"t":881,"u":0.25,"y":0.9},{"t":882,"u":0.25,"y":0.3},{"t":883,"u":0.25,"y":0},{"t":884,"u":1,"y":0.2},{"t":885,"u":1,"y":0.7},{"t":886,"u":1,"y":1.2},{"t":887,"u":1,"y":0.9},{"t":888,"u":1,"y":0.5},{"t":889,"u":4,"y":0.8},{"t":890,"u":4,"y":1.4},{"t":891,"u":4,"y":1.8},
{"t":892,"u":1,"y":3.8},{"t":893,"u":1,"y":2},{"t":894,"u":1,"y":1.1},{"t":895,"u":1,"y":0.8},{"t":896,"u":1,"y":1},{"t":897,"u":0.25,"y":0.7},{"t":898,"u":0.25,"y":0.15},{"t":899,"u":0.25,"y":0.05},{"t":900,"u":1,"y":0.4},{"t":901,"u":1,"y":0.9},{"t":902,"u":1,"y":0.9},{"t":903,"u":1,"y":1},{"t":904,"u":1,"y":0.8},{"t":905,"u":4,"y":1.1},{"t":906,"u":4,"y":1.2},{"t":907,"u":4,"y":1.5},
{"t":908,"u":1,"y":4.8},{"t":909,"u":1,"y":1.2},{"t":910,"u":1,"y":0.8},{"t":911,"u":1,"y":1},{"t":912,"u":1,"y":1.2},{"t":913,"u":0.25,"y":0.8},{"t":914,"u":0.25,"y":0.2},{"t":915,"u":0.25,"y":0.05},{"t":916,"u":1,"y":0.3},{"t":917,"u":1,"y":0.8},{"t":918,"u":1,"y":1.1},{"t":919,"u":1,"y":0.8},{"t":920,"u":1,"y":0.6},{"t":921,"u":4,"y":1},{"t":922,"u":4,"y":1.3},{"t":923,"u":4,"y":1.6},
{"t":924,"u":1,"y":3.8},{"t":925,"u":1,"y":1.5},{"t":926,"u":1,"y":0.9},{"t":927,"u":1,"y":0.7},{"t":928,"u":1,"y":1.1},{"t":929,"u":0.25,"y":1},{"t":930,"u":0.25,"y":0.4},{"t":931,"u":0.25,"y":0.1},{"t":932,"u":1,"y":0.1},{"t":933,"u":1,"y":0.6},{"t":934,"u":1,"y":1},{"t":935,"u":1,"y":1.2},{"t":936,"u":1,"y":0.7},{"t":937,"u":4,"y":0.9},{"t":938,"u":4,"y":1.2},{"t":939,"u":4,"y":1.4},
{"t":940,"u":1,"y":3.6},{"t":941,"u":1,"y":1},{"t":942,"u":1,"y":0.6},{"t":943,"u":1,"y":0.9},{"t":944,"u":1,"y":1.3},{"t":945,"u":0.25,"y":0.9},{"t":946,"u":0.25,"y":0.3},{"t":947,"u":0.25,"y":0},{"t":948,"u":1,"y":0.2},{"t":949,"u":1,"y":0.7},{"t":950,"u":1,"y":1.2},{"t":951,"u":1,"y":0.9},{"t":952,"u":1,"y":0.5},{"t":953,"u":4,"y":0.8},{"t":954,"u":4,"y":1.4},{"t":955,"u":4,"y":1.8},
{"t":956,"u":1,"y":3.3},{"t":957,"u":1,"y":2},{"t":958,"u":1,"y":1.1},{"t":959,"u":1,"y":0.8},{"t":960,"u":1,"y":1},{"t":961,"u":0.25,"y":0.7},{"t":962,"u":0.25,"y":0.15},{"t":963,"u":0.25,"y":0.05},{"t":964,"u":1,"y":0.4},{"t":965,"u":1,"y":0.9},{"t":966,"u":1,"y":0.9},{"t":967,"u":1,"y":1},{"t":968,"u":1,"y":0.8},{"t":969,"u":4,"y":1.1},{"t":970,"u":4,"y":1.2},{"t":971,"u":4,"y":1.5},
{"t":972,"u":1,"y":3.3},{"t":973,"u":1,"y":1.2},{"t":974,"u":1,"y":0.8},{"t":975,"u":1,"y":1},{"t":976,"u":1,"y":1.2},{"t":977,"u":0.25,"y":0.8},{"t":978,"u":0.25,"y":0.2},{"t":979,"u":0.25,"y":0.05},{"t":980,"u":1,"y":0.3},{"t":981,"u":1,"y":0.8},{"t":982,"u":1,"y":1.1},{"t":983,"u":1,"y":0.8},{"t":984,"u":1,"y":0.6},{"t":985,"u":4,"y":1},{"t":986,"u":4,"y":1.3},{"t":987,"u":4,"y":1.6},
{"t":988,"u":1,"y":4.7},{"t":989,"u":1,"y":1.5},{"t":990,"u":1,"y":0.9},{"t":991,"u":1,"y":0.7},{"t":992,"u":1,"y":1.1},{"t":993,"u":0.25,"y":1},{"t":994,"u":0.25,"y":0.4},{"t":995,"u":0.25,"y":0.1},{"t":996,"u":1,"y":0.1},{"t":997,"u":1,"y":0.6},{"t":998,"u":1,"y":1},{"t":999,"u":1,"y":1.2},{"t":1000,"u":1,"y":0.7}
]},
"spacing":53,"bounds":"flush",
"vconcat":[
{"width":522,"height":137,
 "layer":[
  {"mark":{"type":"line","clip":true},
   "encoding":{
    "x":{"field":"t","type":"quantitative","scale":{"domain":[0,1000],"nice":false},"axis":{"values":[0,100,200,300,400,500,600,700,800,900,1000],"format":"d","labelPadding":8,"title":null}},
    "y":{"field":"u","type":"quantitative","scale":{"domain":[0,4.25],"nice":false},"axis":{"values":[0,1,2,3,4],"labelPadding":9,"title":["u\u00a0\u00a0\u200b","\u200b\u00a0\u00a0\u00a0id"],"titleLineHeight":3,"titlePadding":6}}}},
  {"mark":{"type":"line","opacity":0},
   "encoding":{
    "x":{"field":"t","type":"quantitative","axis":{"orient":"top","values":[0,100,200,300,400,500,600,700,800,900,1000],"labels":false,"title":null}},
    "y":{"field":"u","type":"quantitative","axis":{"orient":"right","values":[0,1,2,3,4],"labels":false,"title":null}}}}
 ],
 "resolve":{"axis":{"x":"independent","y":"independent"}}},
{"width":522,"height":135,
 "layer":[
  {"mark":{"type":"line","clip":true},
   "encoding":{
    "x":{"field":"t","type":"quantitative","scale":{"domain":[0,1000],"nice":false},"axis":{"values":[0,100,200,300,400,500,600,700,800,900,1000],"format":"d","labelPadding":8,"title":null}},
    "y":{"field":"y","type":"quantitative","scale":{"domain":[0,15],"nice":false},"axis":{"values":[0,5,10,15],"labelPadding":9,"title":["y\u00a0\u00a0\u200b","\u200b\u00a0\u00a0\u00a0id"],"titleLineHeight":3,"titlePadding":12}}}},
  {"mark":{"type":"line","opacity":0},
   "encoding":{
    "x":{"field":"t","type":"quantitative","axis":{"orient":"top","values":[0,100,200,300,400,500,600,700,800,900,1000],"labels":false,"title":null}},
    "y":{"field":"y","type":"quantitative","axis":{"orient":"right","values":[0,5,10,15],"labels":false,"title":null}}}}
 ],
 "resolve":{"axis":{"x":"independent","y":"independent"}}}
]}
